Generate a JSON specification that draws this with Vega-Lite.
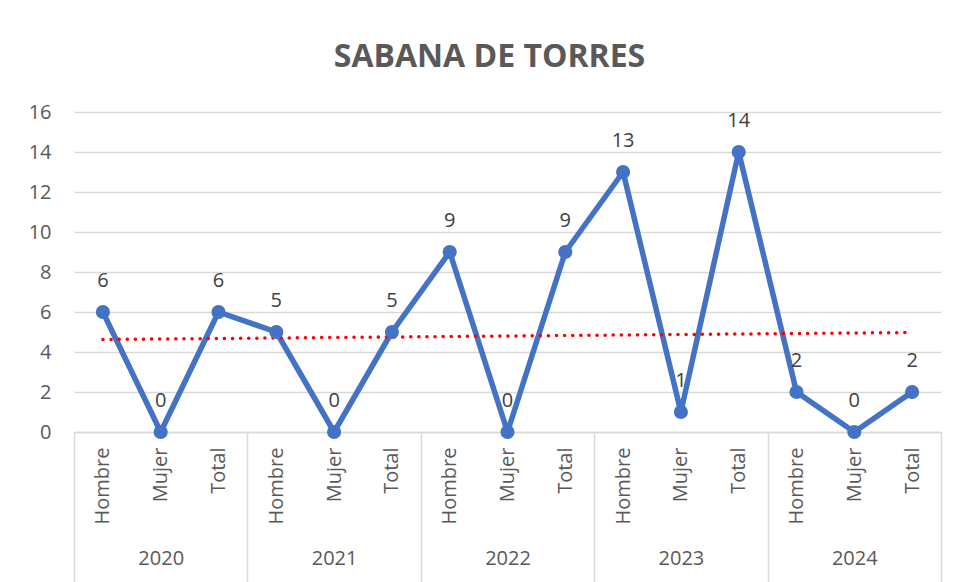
{
  "$schema": "https://vega.github.io/schema/vega-lite/v6.json",
  "autosize": {"type": "none"},
  "width": 867,
  "height": 320,
  "padding": {"left": 74, "top": 112, "right": 15, "bottom": 150},
  "background": "#ffffff",
  "title": {
    "text": "SABANA DE TORRES",
    "font": "Open Sans",
    "fontSize": 32,
    "fontWeight": "bold",
    "color": "#595959",
    "anchor": "middle",
    "dx": -18,
    "offset": 28
  },
  "config": {"view": {"stroke": null}},
  "data": {
    "values": [
      {"idx": 0, "year": "2020", "sex": "Hombre", "value": 6},
      {"idx": 1, "year": "2020", "sex": "Mujer", "value": 0},
      {"idx": 2, "year": "2020", "sex": "Total", "value": 6},
      {"idx": 3, "year": "2021", "sex": "Hombre", "value": 5},
      {"idx": 4, "year": "2021", "sex": "Mujer", "value": 0},
      {"idx": 5, "year": "2021", "sex": "Total", "value": 5},
      {"idx": 6, "year": "2022", "sex": "Hombre", "value": 9},
      {"idx": 7, "year": "2022", "sex": "Mujer", "value": 0},
      {"idx": 8, "year": "2022", "sex": "Total", "value": 9},
      {"idx": 9, "year": "2023", "sex": "Hombre", "value": 13},
      {"idx": 10, "year": "2023", "sex": "Mujer", "value": 1},
      {"idx": 11, "year": "2023", "sex": "Total", "value": 14},
      {"idx": 12, "year": "2024", "sex": "Hombre", "value": 2},
      {"idx": 13, "year": "2024", "sex": "Mujer", "value": 0},
      {"idx": 14, "year": "2024", "sex": "Total", "value": 2}
    ]
  },
  "encoding": {
    "y": {
      "field": "value", "type": "quantitative",
      "scale": {"domain": [0, 16], "nice": false},
      "axis": {
        "title": null,
        "values": [0,2,4,6,8,10,12,14,16],
        "labelFont": "Open Sans",
        "labelFontSize": 20,
        "labelColor": "#595959",
        "labelPadding": 23,
        "labelOverlap": false,
        "ticks": false,
        "domain": false,
        "grid": true,
        "gridColor": "#d9d9d9",
        "gridWidth": 1.5
      }
    }
  },
  "layer": [
    {
      "mark": {"type": "line", "color": "#4472C4", "strokeWidth": 5.5, "strokeJoin": "round"},
      "encoding": {
        "x": {
          "field": "idx", "type": "quantitative",
          "scale": {"domain": [-0.5, 14.5], "nice": false, "zero": false},
          "axis": {
            "orient": "bottom",
            "title": null,
            "values": [0,1,2,3,4,5,6,7,8,9,10,11,12,13,14],
            "labelExpr": "['Hombre','Mujer','Total'][datum.value % 3]",
            "labelAngle": 270,
            "labelAlign": "right",
            "labelBaseline": "middle",
            "labelFont": "Open Sans",
            "labelFontSize": 20,
            "labelColor": "#595959",
            "labelPadding": 15,
            "labelOverlap": false,
            "ticks": false,
            "grid": false,
            "domain": true,
            "domainColor": "#d9d9d9",
            "domainWidth": 1.5
          }
        }
      }
    },
    {
      "transform": [{"regression": "value", "on": "idx", "extent": [0, 14]}],
      "mark": {"type": "line", "color": "#ff0000", "strokeWidth": 3.5, "strokeDash": [0.1, 8], "strokeCap": "round"},
      "encoding": {
        "x": {"field": "idx", "type": "quantitative", "axis": null}
      }
    },
    {
      "mark": {"type": "point", "filled": true, "opacity": 1, "color": "#4472C4", "size": 200},
      "encoding": {
        "x": {
          "field": "idx", "type": "quantitative",
          "axis": {
            "orient": "bottom",
            "title": null,
            "values": [-0.5, 2.5, 5.5, 8.5, 11.5, 14.5],
            "labels": false,
            "ticks": true,
            "tickSize": 160,
            "tickColor": "#d9d9d9",
            "tickWidth": 1.5,
            "domain": false,
            "grid": false
          }
        }
      }
    },
    {
      "mark": {"type": "text", "dy": -31, "font": "Open Sans", "fontSize": 20, "color": "#404040"},
      "encoding": {
        "x": {
          "field": "idx", "type": "quantitative",
          "axis": {
            "orient": "bottom",
            "title": null,
            "values": [1, 4, 7, 10, 13],
            "labelExpr": "['2020','2021','2022','2023','2024'][floor(datum.value / 3)]",
            "labelFont": "Open Sans",
            "labelFontSize": 20,
            "labelColor": "#595959",
            "labelPadding": 116,
            "labelOverlap": false,
            "ticks": false,
            "domain": false,
            "grid": false
          }
        },
        "text": {"field": "value", "type": "quantitative"}
      }
    }
  ],
  "resolve": {"axis": {"x": "independent"}}
}
